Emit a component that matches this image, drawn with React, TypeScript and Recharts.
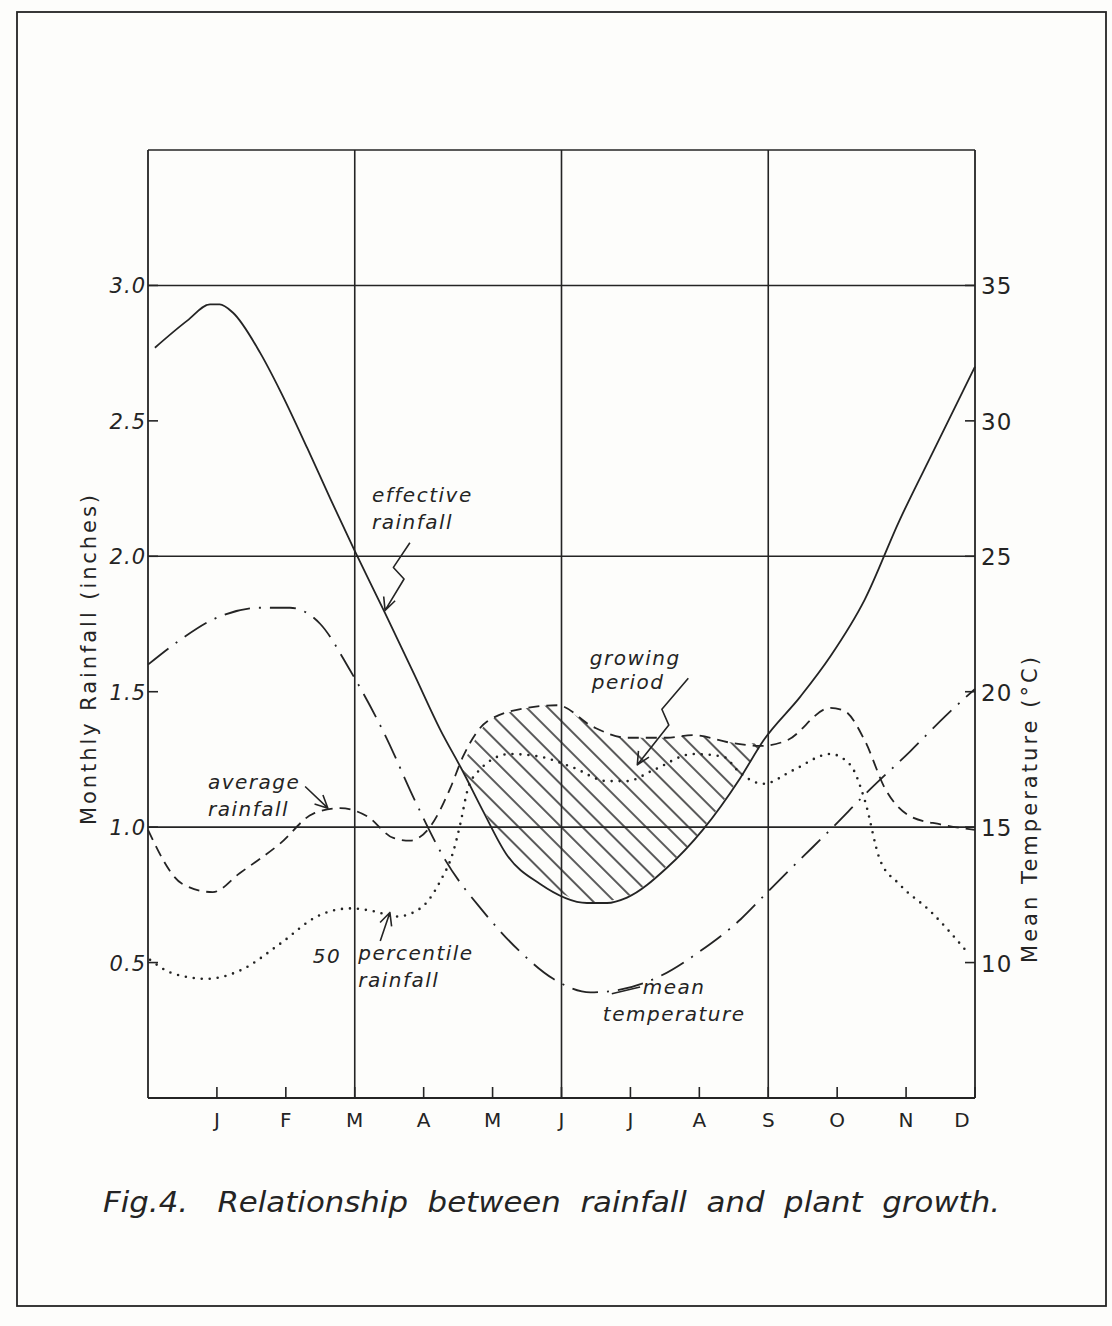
import React from 'react';
import { ComposedChart, Line, Area, XAxis, YAxis, ReferenceLine, ReferenceDot } from 'recharts';

// month ticks along the bottom, x runs 0..12 (end of each month)
const MONTHS = ['J', 'F', 'M', 'A', 'M', 'J', 'J', 'A', 'S', 'O', 'N', 'D'];
const MONTH_TICKS = [1, 2, 3, 4, 5, 6, 7, 8, 9, 10, 11, 12];
const RAIN_TICKS = [0.5, 1, 1.5, 2, 2.5, 3];
const TEMP_TICKS = [10, 15, 20, 25, 30, 35];

// effective rainfall (solid), inches
const effX = [0.1, 0.57, 0.9, 1.04, 1.23, 1.63, 1.92, 2.31, 2.65, 3.0, 3.44, 3.87, 4.24, 4.56, 4.86, 5.2, 5.69, 6.37, 6.66, 6.95, 7.53, 8.05, 8.59, 8.93, 9.46, 9.9, 10.4, 10.9, 11.4, 12];
const effRain = [2.77, 2.87, 2.93, 2.93, 2.9, 2.75, 2.61, 2.4, 2.21, 2.02, 1.79, 1.56, 1.36, 1.21, 1.06, 0.9, 0.79, 0.72, 0.72, 0.74, 0.85, 0.99, 1.18, 1.32, 1.48, 1.63, 1.84, 2.13, 2.39, 2.7];

// average rainfall (dashed)
const avgX = [0, 0.5, 0.94, 1.33, 1.92, 2.4, 2.79, 3.18, 3.56, 3.8, 4.09, 4.38, 4.57, 4.92, 5.5, 5.94, 6.46, 6.95, 7.53, 7.9, 8.49, 8.88, 9.27, 9.9, 10.1, 10.4, 10.7, 11.06, 11.5, 12];
const avgRain = [0.99, 0.79, 0.76, 0.83, 0.94, 1.05, 1.07, 1.04, 0.96, 0.95, 1.0, 1.14, 1.26, 1.39, 1.44, 1.45, 1.37, 1.33, 1.33, 1.34, 1.31, 1.3, 1.32, 1.44, 1.43, 1.32, 1.14, 1.04, 1.01, 0.99];

// 50 percentile rainfall (dotted)
const pctX = [0.03, 0.36, 0.85, 1.33, 1.92, 2.45, 2.93, 3.27, 3.61, 3.95, 4.24, 4.43, 4.53, 4.64, 4.77, 5.25, 5.69, 6.17, 6.66, 6.95, 7.33, 7.91, 8.35, 8.59, 8.93, 9.36, 9.9, 10.19, 10.4, 10.62, 10.9, 11.35, 11.85];
const pctRain = [0.51, 0.46, 0.44, 0.47, 0.57, 0.67, 0.7, 0.69, 0.67, 0.7, 0.8, 0.91, 1.01, 1.14, 1.2, 1.27, 1.26, 1.22, 1.17, 1.17, 1.21, 1.27, 1.26, 1.2, 1.16, 1.21, 1.27, 1.23, 1.1, 0.88, 0.79, 0.69, 0.55];

// mean temperature (dash-dot), deg C on the right axis
const tempX = [0, 0.46, 0.97, 1.63, 2.06, 2.5, 2.93, 3.44, 3.87, 4.31, 4.86, 5.4, 5.88, 6.42, 6.85, 7.43, 8.0, 8.6, 8.95, 9.46, 9.9, 10.48, 11.06, 11.57, 12];
const tempC = [21.0, 21.9, 22.7, 23.1, 23.1, 22.5, 20.8, 18.4, 16.0, 13.8, 11.9, 10.4, 9.4, 8.9, 9.0, 9.5, 10.4, 11.6, 12.5, 13.8, 14.9, 16.4, 17.8, 19.1, 20.1];

// growing period: between effective (low) and average (high)
const growX = [4.55, 4.9, 5.2, 5.5, 5.9, 6.4, 6.9, 7.5, 7.9, 8.3, 8.6, 8.92];
const growLow = [1.22, 1.05, 0.9, 0.83, 0.77, 0.72, 0.74, 0.85, 0.95, 1.08, 1.19, 1.31];
const growHigh = [1.22, 1.38, 1.42, 1.44, 1.45, 1.38, 1.33, 1.33, 1.34, 1.32, 1.31, 1.31];

// annotation text, placed in data units
const NOTES = [
  { x: 3.25, y: 2.2, text: 'effective' },
  { x: 3.25, y: 2.1, text: 'rainfall' },
  { x: 0.87, y: 1.14, text: 'average' },
  { x: 0.87, y: 1.04, text: 'rainfall' },
  { x: 2.39, y: 0.5, text: '50' },
  { x: 3.05, y: 0.51, text: 'percentile' },
  { x: 3.05, y: 0.41, text: 'rainfall' },
  { x: 7.18, y: 0.385, text: 'mean' },
  { x: 6.6, y: 0.285, text: 'temperature' },
  { x: 6.41, y: 1.6, text: 'growing' },
  { x: 6.44, y: 1.51, text: 'period' },
];

const ARROWS = [
  { from: [3.8, 2.05], to: [3.44, 1.8], kink: true, head: true },
  { from: [2.28, 1.15], to: [2.61, 1.07], kink: false, head: true },
  { from: [3.37, 0.58], to: [3.51, 0.685], kink: false, head: true },
  { from: [7.14, 0.41], to: [6.73, 0.385], kink: false, head: false },
  { from: [7.84, 1.55], to: [7.1, 1.23], kink: true, head: true },
];

const INK = '#242424';
const HAND = '"DejaVu Sans", "Noto Sans", sans-serif';

const pts = (xs: number[], ys: number[]) => xs.map((x, i) => ({ x, v: ys[i] }));
const effData = pts(effX, effRain);
const avgData = pts(avgX, avgRain);
const pctData = pts(pctX, pctRain);
const tempData = pts(tempX, tempC);
const growData = growX.map((x, i) => ({ x, band: [growLow[i], growHigh[i]] }));

function LeftTick({ x, y, payload }: any) {
  return (
    <g>
      <line x1={x} y1={y} x2={x + 10} y2={y} stroke={INK} strokeWidth={1.6} />
      <text x={x - 2} y={y + 8} textAnchor="end" fontSize={21} fill={INK} fontFamily={HAND} fontStyle="italic" letterSpacing={1}>
        {payload.value.toFixed(1)}
      </text>
    </g>
  );
}

function RightTick({ x, y, payload }: any) {
  return (
    <g>
      <line x1={x - 10} y1={y} x2={x} y2={y} stroke={INK} strokeWidth={1.6} />
      <text x={x + 6} y={y + 9} textAnchor="start" fontSize={23} fill={INK} fontFamily={HAND} letterSpacing={1}>
        {payload.value}
      </text>
    </g>
  );
}

function MonthTick({ x, y, payload }: any) {
  // the last label sits a little inside the right edge in the original
  const lx = payload.value === 12 ? x - 13 : x;
  return (
    <g>
      <line x1={x} y1={y - 11} x2={x} y2={y} stroke={INK} strokeWidth={1.6} />
      <text x={lx} y={y + 29} textAnchor="middle" fontSize={20} fill={INK} fontFamily={HAND}>
        {MONTHS[payload.value - 1]}
      </text>
    </g>
  );
}

function Arrow({ x1, y1, x2, y2, kink, head }: any) {
  const dx = x2 - x1;
  const dy = y2 - y1;
  const len = Math.hypot(dx, dy) || 1;
  const ux = dx / len;
  const uy = dy / len;
  let d = `M${x1},${y1}`;
  if (kink) {
    const nx = -uy * 7;
    const ny = ux * 7;
    d += ` L${x1 + dx * 0.4 + nx},${y1 + dy * 0.4 + ny} L${x1 + dx * 0.5 - nx},${y1 + dy * 0.5 - ny}`;
  }
  d += ` L${x2},${y2}`;
  if (head) {
    const a = 0.45;
    const h = 14;
    const bx1 = x2 - h * (ux * Math.cos(a) - uy * Math.sin(a));
    const by1 = y2 - h * (uy * Math.cos(a) + ux * Math.sin(a));
    const bx2 = x2 - h * (ux * Math.cos(a) + uy * Math.sin(a));
    const by2 = y2 - h * (uy * Math.cos(a) - ux * Math.sin(a));
    d += ` M${bx1},${by1} L${x2},${y2} L${bx2},${by2}`;
  }
  return <path d={d} fill="none" stroke={INK} strokeWidth={1.6} strokeLinejoin="round" />;
}

export default function App() {
  return (
    <div style={{ position: 'absolute', left: 0, top: 0, width: 1112, height: 1326, background: '#fdfdfb' }}>
      <svg width={0} height={0} style={{ position: 'absolute' }}>
        <defs>
          <pattern id="hatch" width={15} height={15} patternUnits="userSpaceOnUse" patternTransform="rotate(-45)">
            <line x1={7} y1={0} x2={7} y2={15} stroke={INK} strokeWidth={1.5} />
          </pattern>
        </defs>
      </svg>

      <div style={{ position: 'absolute', left: 0, top: 0 }}>
        <ComposedChart width={1112} height={1326} margin={{ top: 150, right: 77, bottom: 188, left: 88 }}>
          <XAxis
            dataKey="x"
            type="number"
            domain={[0, 12]}
            ticks={MONTH_TICKS}
            allowDuplicatedCategory={false}
            tick={(p: any) => <MonthTick {...p} />}
            tickLine={false}
            tickSize={0}
            tickMargin={0}
            height={40}
            axisLine={{ stroke: INK, strokeWidth: 1.8 }}
          />
          <YAxis
            yAxisId="rain"
            type="number"
            domain={[0, 3.5]}
            ticks={RAIN_TICKS}
            tick={(p: any) => <LeftTick {...p} />}
            tickLine={false}
            tickSize={0}
            tickMargin={0}
            width={60}
            axisLine={{ stroke: INK, strokeWidth: 1.8 }}
          />
          <YAxis
            yAxisId="temp"
            orientation="right"
            type="number"
            domain={[5, 40]}
            ticks={TEMP_TICKS}
            tick={(p: any) => <RightTick {...p} />}
            tickLine={false}
            tickSize={0}
            tickMargin={0}
            width={60}
            axisLine={{ stroke: INK, strokeWidth: 1.8 }}
          />

          {[1, 2, 3, 3.5].map((v) => (
            <ReferenceLine key={'h' + v} yAxisId="rain" y={v} stroke={INK} strokeWidth={1.6} />
          ))}
          {[3, 6, 9].map((v) => (
            <ReferenceLine key={'v' + v} yAxisId="rain" x={v} stroke={INK} strokeWidth={1.6} />
          ))}

          <Area
            yAxisId="rain"
            data={growData}
            dataKey="band"
            type="monotone"
            stroke="none"
            fill="url(#hatch)"
            fillOpacity={1}
            isAnimationActive={false}
          />

          <Line yAxisId="rain" data={effData} dataKey="v" type="monotone" stroke={INK} strokeWidth={1.8} dot={false} activeDot={false} isAnimationActive={false} />
          <Line yAxisId="rain" data={avgData} dataKey="v" type="monotone" stroke={INK} strokeWidth={1.8} strokeDasharray="11 7" dot={false} activeDot={false} isAnimationActive={false} />
          <Line yAxisId="rain" data={pctData} dataKey="v" type="monotone" stroke={INK} strokeWidth={2.6} strokeLinecap="round" strokeDasharray="0 8" dot={false} activeDot={false} isAnimationActive={false} />
          <Line yAxisId="temp" data={tempData} dataKey="v" type="monotone" stroke={INK} strokeWidth={1.8} strokeDasharray="26 9 2 9" dot={false} activeDot={false} isAnimationActive={false} />

          {ARROWS.map((a, i) => (
            <ReferenceLine
              key={'a' + i}
              yAxisId="rain"
              segment={[{ x: a.from[0], y: a.from[1] }, { x: a.to[0], y: a.to[1] }]}
              shape={(p: any) => <Arrow {...p} kink={a.kink} head={a.head} />}
            />
          ))}

          {NOTES.map((n, i) => (
            <ReferenceDot
              key={'n' + i}
              yAxisId="rain"
              x={n.x}
              y={n.y}
              r={0}
              shape={(p: any) => (
                <text x={p.cx} y={p.cy} fontSize={20} fill={INK} fontFamily={HAND} fontStyle="italic" letterSpacing={1.5}>
                  {n.text}
                </text>
              )}
            />
          ))}
        </ComposedChart>
      </div>

      <svg width={1112} height={1326} style={{ position: 'absolute', left: 0, top: 0, pointerEvents: 'none' }}>
        <rect x={17} y={12} width={1089} height={1294} fill="none" stroke={INK} strokeWidth={1.8} />
        <text
          transform="translate(96,825) rotate(-90)"
          fontSize={21}
          fill={INK}
          fontFamily={HAND}
          textLength={330}
          lengthAdjust="spacing"
        >
          Monthly Rainfall (inches)
        </text>
        <text
          transform="translate(1037,963) rotate(-90)"
          fontSize={21}
          fill={INK}
          fontFamily={HAND}
          textLength={306}
          lengthAdjust="spacing"
        >
          Mean Temperature (°C)
        </text>
        <text
          x={103}
          y={1212}
          fontSize={28}
          fill={INK}
          fontFamily={HAND}
          fontStyle="italic"
          textLength={897}
          lengthAdjust="spacingAndGlyphs"
          xmlSpace="preserve"
        >
          Fig.4.   Relationship  between  rainfall  and  plant  growth.
        </text>
      </svg>
    </div>
  );
}
